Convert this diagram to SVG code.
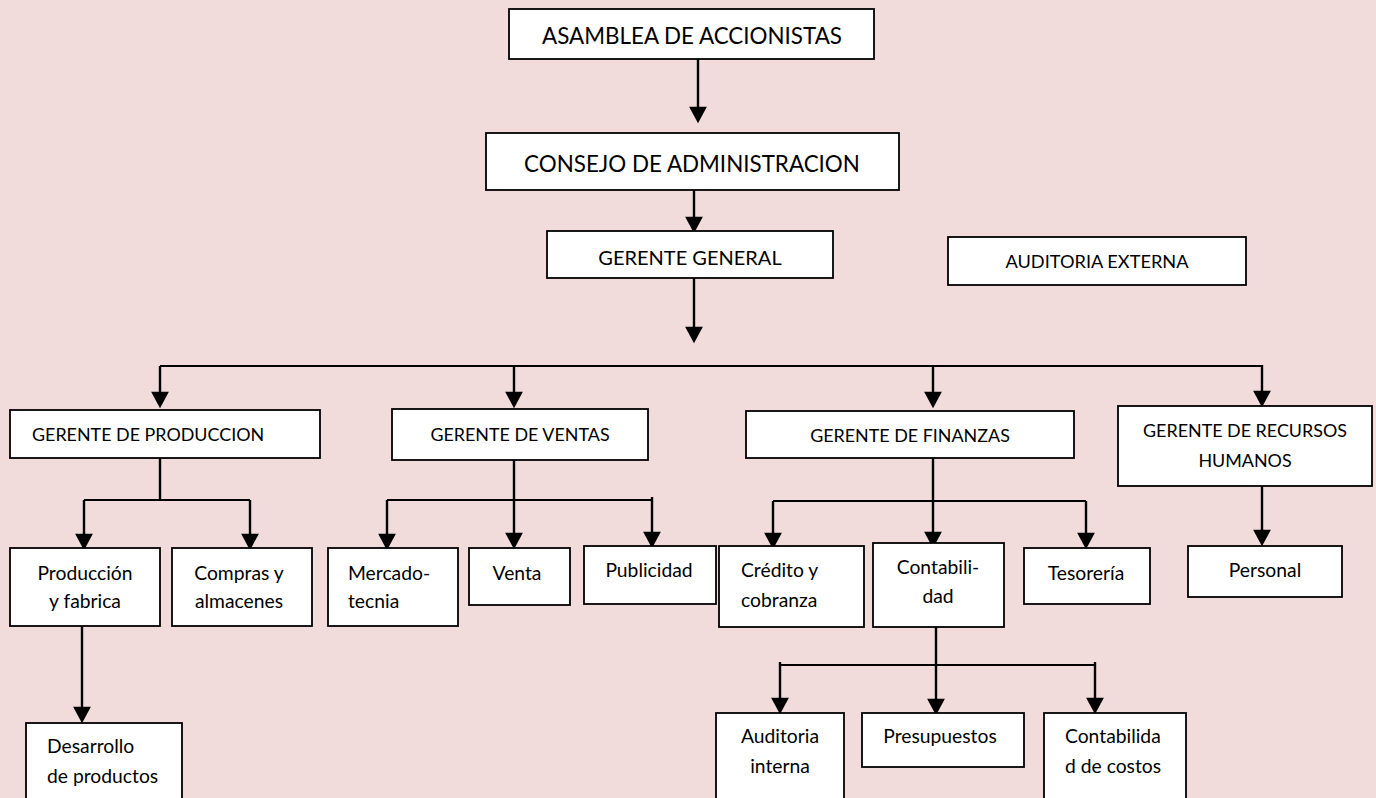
<svg xmlns="http://www.w3.org/2000/svg" width="1376" height="798" viewBox="0 0 1376 798">
<style>
.box{fill:#fff;stroke:#000;stroke-width:1.8}
.t{font-family:Lato,"Liberation Sans",sans-serif;fill:#000}
.c{text-anchor:middle}
.big{font-size:22.4px}
.gg{font-size:20px}
.aud{font-size:18.2px}
.h{font-size:17.9px}
.s{font-size:19.3px}
.ln{fill:none;stroke:#000;stroke-width:2.4}
.bus{fill:none;stroke:#000;stroke-width:2}
.ar{marker-end:url(#ah)}
</style>
<defs>
<marker id="ah" markerUnits="userSpaceOnUse" markerWidth="20" markerHeight="20" refX="3" refY="0" viewBox="0 -9 18 18" orient="auto" overflow="visible">
<path d="M0,-8 L15,0 L0,8 z" fill="#000"/>
</marker>
</defs>
<rect width="1376" height="798" fill="#F2DBDB"/>
<g id="connectors">
<line class="ln ar" x1="698" y1="54" x2="698" y2="110"/>
<line class="ln ar" x1="694" y1="181" x2="694" y2="220"/>
<line class="ln ar" x1="694" y1="274" x2="694" y2="330"/>
<path class="bus" d="M160,366 H1262"/>
<line class="ln ar" x1="160" y1="366" x2="160" y2="395"/>
<line class="ln ar" x1="514" y1="366" x2="514" y2="395"/>
<line class="ln ar" x1="933" y1="366" x2="933" y2="395"/>
<line class="ln ar" x1="1262" y1="365" x2="1262" y2="394"/>
<path class="ln" d="M160,458 V500"/>
<path class="bus" d="M84,500 H250"/>
<line class="ln ar" x1="84" y1="500" x2="84" y2="537"/>
<line class="ln ar" x1="250" y1="500" x2="250" y2="537"/>
<line class="ln ar" x1="514" y1="460" x2="514" y2="536"/>
<path class="bus" d="M387,500 H652"/>
<line class="ln ar" x1="387" y1="500" x2="387" y2="537"/>
<line class="ln ar" x1="652" y1="497" x2="652" y2="535"/>
<line class="ln ar" x1="933" y1="458" x2="933" y2="535"/>
<path class="bus" d="M773,501 H1086"/>
<line class="ln ar" x1="773" y1="501" x2="773" y2="536"/>
<line class="ln ar" x1="1086" y1="501" x2="1086" y2="536"/>
<line class="ln ar" x1="1262" y1="486" x2="1262" y2="533"/>
<line class="ln ar" x1="82" y1="622" x2="82" y2="710"/>
<line class="ln ar" x1="936" y1="622" x2="936" y2="702"/>
<path class="bus" d="M780,665 H1095"/>
<line class="ln ar" x1="780" y1="662" x2="780" y2="701"/>
<line class="ln ar" x1="1095" y1="662" x2="1095" y2="701"/>
</g>
<g id="asamblea"><rect class="box" x="509" y="9" width="365" height="50"/><text class="t c big" x="692" y="44">ASAMBLEA DE ACCIONISTAS</text></g>
<g id="consejo"><rect class="box" x="486" y="133" width="413" height="57"/><text class="t c big" x="692" y="172">CONSEJO DE ADMINISTRACION</text></g>
<g id="gerente-general"><rect class="box" x="547" y="231" width="286" height="47"/><text class="t c gg" x="690" y="265">GERENTE GENERAL</text></g>
<g id="auditoria-externa"><rect class="box" x="948" y="237" width="298" height="48"/><text class="t c aud" x="1097" y="268">AUDITORIA EXTERNA</text></g>
<g id="gerente-produccion"><rect class="box" x="10" y="410" width="310" height="48"/><text class="t h" x="32" y="441">GERENTE DE PRODUCCION</text></g>
<g id="gerente-ventas"><rect class="box" x="392" y="409" width="256" height="51"/><text class="t c h" x="520" y="441">GERENTE DE VENTAS</text></g>
<g id="gerente-finanzas"><rect class="box" x="746" y="411" width="328" height="47"/><text class="t c h" x="910" y="442">GERENTE DE FINANZAS</text></g>
<g id="gerente-rrhh"><rect class="box" x="1118" y="406" width="254" height="80"/><text class="t c h" x="1245" y="437">GERENTE DE RECURSOS</text><text class="t c h" x="1245" y="467">HUMANOS</text></g>
<g id="produccion-fabrica"><rect class="box" x="10" y="548" width="150" height="78"/><text class="t c s" x="85" y="580">Producción</text><text class="t c s" x="85" y="608">y fabrica</text></g>
<g id="compras"><rect class="box" x="172" y="548" width="140" height="78"/><text class="t c s" x="239" y="580">Compras y</text><text class="t c s" x="239" y="608">almacenes</text></g>
<g id="mercadotecnia"><rect class="box" x="328" y="548" width="130" height="78"/><text class="t s" x="348" y="580">Mercado-</text><text class="t s" x="348" y="608">tecnia</text></g>
<g id="venta"><rect class="box" x="469" y="548" width="101" height="57"/><text class="t c s" x="517" y="580">Venta</text></g>
<g id="publicidad"><rect class="box" x="584" y="546" width="132" height="58"/><text class="t c s" x="649" y="577">Publicidad</text></g>
<g id="credito"><rect class="box" x="719" y="546" width="145" height="81"/><text class="t s" x="741" y="577">Crédito y</text><text class="t s" x="741" y="607">cobranza</text></g>
<g id="contabilidad"><rect class="box" x="873" y="543" width="131" height="84"/><text class="t c s" x="938" y="574">Contabili-</text><text class="t c s" x="938" y="603">dad</text></g>
<g id="tesoreria"><rect class="box" x="1024" y="548" width="126" height="56"/><text class="t c s" x="1086" y="580">Tesorería</text></g>
<g id="personal"><rect class="box" x="1188" y="546" width="154" height="51"/><text class="t c s" x="1265" y="577">Personal</text></g>
<g id="desarrollo"><rect class="box" x="26" y="723" width="156" height="85"/><text class="t s" x="47" y="753">Desarrollo</text><text class="t s" x="47" y="783">de productos</text></g>
<g id="auditoria-interna"><rect class="box" x="716" y="713" width="128" height="95"/><text class="t c s" x="780" y="743">Auditoria</text><text class="t c s" x="780" y="773">interna</text></g>
<g id="presupuestos"><rect class="box" x="862" y="713" width="162" height="54"/><text class="t c s" x="940" y="743">Presupuestos</text></g>
<g id="contabilidad-costos"><rect class="box" x="1044" y="713" width="142" height="95"/><text class="t s" x="1065" y="743">Contabilida</text><text class="t s" x="1065" y="773">d de costos</text></g>
</svg>
